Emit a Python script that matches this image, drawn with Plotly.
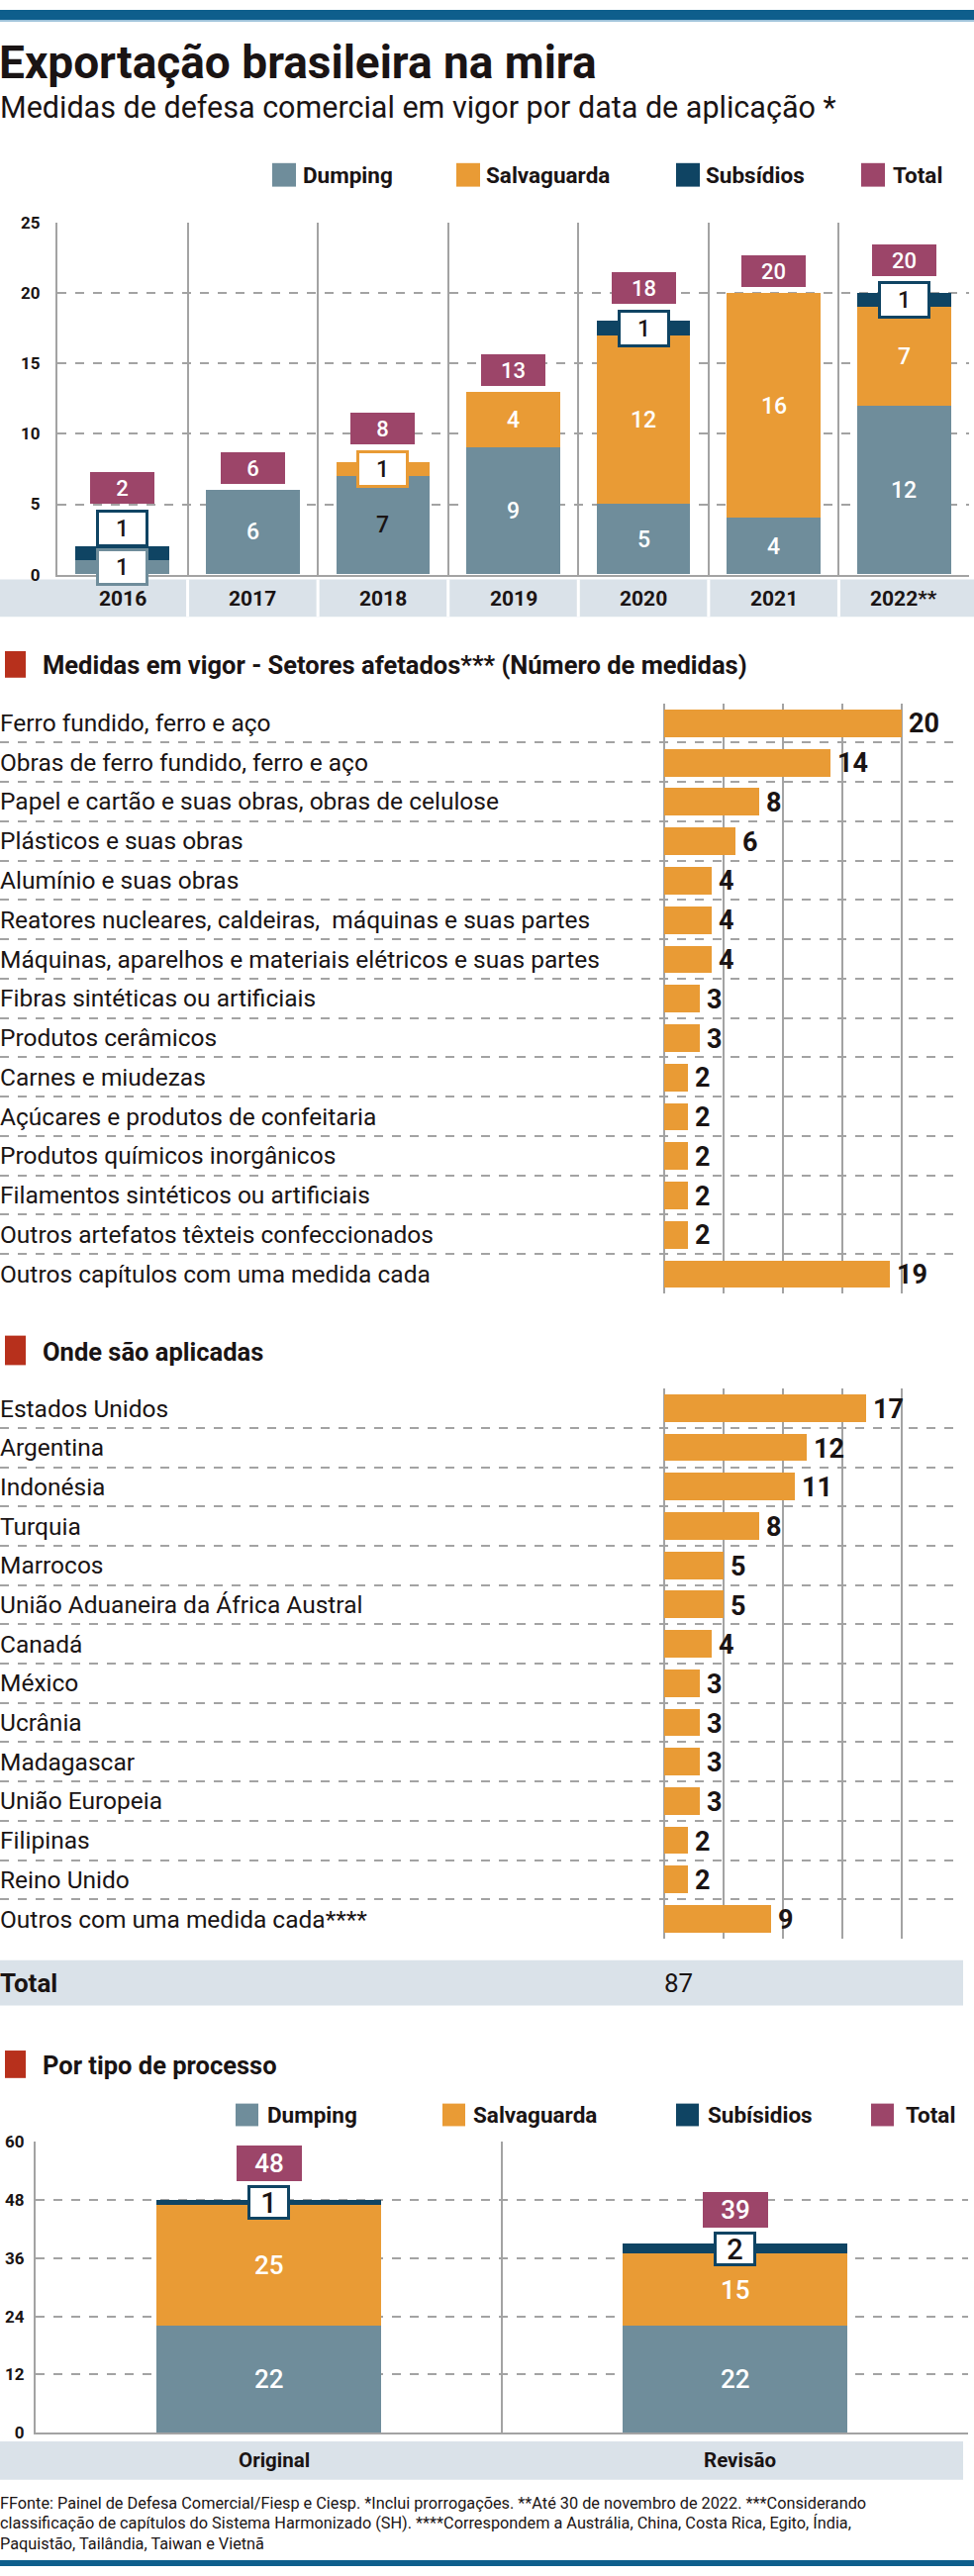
import plotly.graph_objects as go

# ---------------- DATA ----------------
years = ['2016', '2017', '2018', '2019', '2020', '2021', '2022**']
dumping = [1, 6, 7, 9, 5, 4, 12]
salvaguarda = [0, 0, 1, 4, 12, 16, 7]
subsidios = [1, 0, 0, 0, 1, 0, 1]
totais = [2, 6, 8, 13, 18, 20, 20]

setores = ['Ferro fundido, ferro e aço',
           'Obras de ferro fundido, ferro e aço',
           'Papel e cartão e suas obras, obras de celulose',
           'Plásticos e suas obras',
           'Alumínio e suas obras',
           'Reatores nucleares, caldeiras,  máquinas e suas partes',
           'Máquinas, aparelhos e materiais elétricos e suas partes',
           'Fibras sintéticas ou artificiais',
           'Produtos cerâmicos',
           'Carnes e miudezas',
           'Açúcares e produtos de confeitaria',
           'Produtos químicos inorgânicos',
           'Filamentos sintéticos ou artificiais',
           'Outros artefatos têxteis confeccionados',
           'Outros capítulos com uma medida cada']
setores_vals = [20, 14, 8, 6, 4, 4, 4, 3, 3, 2, 2, 2, 2, 2, 19]

paises = ['Estados Unidos', 'Argentina', 'Indonésia', 'Turquia', 'Marrocos',
          'União Aduaneira da África Austral', 'Canadá', 'México', 'Ucrânia',
          'Madagascar', 'União Europeia', 'Filipinas', 'Reino Unido',
          'Outros com uma medida cada****']
paises_vals = [17, 12, 11, 8, 5, 5, 4, 3, 3, 3, 3, 2, 2, 9]
total_geral = 87

tipos = ['Original', 'Revisão']
tipo_dumping = [22, 22]
tipo_salvaguarda = [25, 15]
tipo_subsidios = [1, 2]
tipo_totais = [48, 39]

legend1_names = ['Dumping', 'Salvaguarda', 'Subsídios', 'Total']
legend4_names = ['Dumping', 'Salvaguarda', 'Subísidios', 'Total']

title = 'Exportação brasileira na mira'
subtitle = 'Medidas de defesa comercial em vigor por data de aplicação *'
header2 = 'Medidas em vigor - Setores afetados*** (Número de medidas)'
header3 = 'Onde são aplicadas'
header4 = 'Por tipo de processo'
footer_lines = [
    'FFonte: Painel de Defesa Comercial/Fiesp e Ciesp. *Inclui prorrogações. **Até 30 de novembro de 2022. ***Considerando',
    'classificação de capítulos do Sistema Harmonizado (SH). ****Correspondem a Austrália, China, Costa Rica, Egito, Índia,',
    'Paquistão, Tailândia, Taiwan e Vietnã',
]

# ---------------- STYLE ----------------
W, H = 984, 2603
FONT = "Roboto, 'Liberation Sans', sans-serif"
C_D = '#6f8d9b'
C_S = '#e99b35'
C_SUB = '#0f4463'
C_T = '#9c4569'
RED = '#b7301c'
BAND = '#dae2e9'
GRID = '#a3a3a3'
TOPBAR = '#0e5e8c'
INK = '#1a1414'


def yp(px):
    return 1 - px / H


def xp(px):
    return px / W


fig = go.Figure()
shapes = []
ann = []


def text_ann(x, y, text, size, xref='paper', yref='paper', xanchor='left', color=INK, **kw):
    d = dict(x=x, y=y, xref=xref, yref=yref, text=text, showarrow=False, xanchor=xanchor,
             yanchor=kw.pop('yanchor', 'middle'), font=dict(family=FONT, size=size, color=color))
    d.update(kw)
    ann.append(d)


# ---------- Chart 1 geometry ----------
c1_top, c1_bot, c1_left, c1_right = 217, 575, 58, 979
ppu1 = (c1_bot - c1_top) / 25.0

for vals, col, name in [(dumping, C_D, 'Dumping'), (salvaguarda, C_S, 'Salvaguarda'), (subsidios, C_SUB, 'Subsídios')]:
    fig.add_trace(go.Bar(x=years, y=vals, marker=dict(color=col, line=dict(width=0)), width=0.72,
                         name=name, xaxis='x', yaxis='y', showlegend=False, hoverinfo='skip'))

dark_inside = {('2018', 'Dumping')}


def stacked_labels(cats, series, totals, ppu, xref, yref, box_w, box_h, tot_w, tot_h,
                   in_size, box_size, tot_size, gap=6):
    for i, cat in enumerate(cats):
        base = 0
        last_top = None
        for name, vals, col in series:
            v = vals[i]
            if v <= 0:
                continue
            center = base + v / 2.0
            if v <= 2:
                cpx = center * ppu
                full_h = box_h + 6
                if last_top is not None and cpx - full_h / 2 < last_top + 2:
                    cpx = last_top + 2 + full_h / 2
                ann.append(dict(x=i, y=center, xref=xref, yref=yref, text=str(v),
                                showarrow=False, yshift=cpx - center * ppu,
                                xanchor='center', yanchor='middle',
                                font=dict(family=FONT, size=box_size, color=INK, weight=500),
                                bgcolor='white', bordercolor=col, borderwidth=3, borderpad=0,
                                width=box_w, height=box_h, valign='middle'))
                last_top = cpx + full_h / 2
            else:
                colr = INK if (cat, name) in dark_inside else 'white'
                ann.append(dict(x=i, y=center, xref=xref, yref=yref, text=str(v),
                                xanchor='center', yanchor='middle',
                                showarrow=False, font=dict(family=FONT, size=in_size, color=colr, weight=500)))
            base += v
        tot = totals[i]
        anchor = max(tot * ppu, last_top if last_top is not None else 0)
        ann.append(dict(x=i, y=tot, xref=xref, yref=yref, text=str(tot), showarrow=False,
                        xanchor='center', yanchor='bottom', yshift=anchor - tot * ppu + gap,
                        font=dict(family=FONT, size=tot_size, color='white', weight=500),
                        bgcolor=C_T, borderwidth=0, borderpad=0, width=tot_w, height=tot_h,
                        valign='middle'))


stacked_labels(years, [('Dumping', dumping, C_D), ('Salvaguarda', salvaguarda, C_S),
                       ('Subsídios', subsidios, C_SUB)], totais, ppu1, 'x', 'y',
               47, 32, 65, 32, 23, 23, 22)

# category band chart 1
shapes.append(dict(type='rect', xref='paper', yref='paper', x0=0, x1=1, y0=yp(618), y1=yp(580),
                   fillcolor=BAND, line=dict(width=0), layer='below'))
cw1 = (c1_right - c1_left) / len(years)
for k in range(1, len(years)):
    xx = c1_left + k * cw1
    shapes.append(dict(type='line', xref='paper', yref='paper', x0=xp(xx), x1=xp(xx),
                       y0=yp(618), y1=yp(580), line=dict(color='white', width=3)))
for i, y in enumerate(years):
    text_ann(i, yp(600), '<b>%s</b>' % y, 21, xref='x', xanchor='center')

# ---------- Chart 2 / 3 geometry ----------
bar_x0 = 671
ppu_h = 12.0
h_right = 971


def hbar_section(labels, vals, xa, ya):
    n = len(labels)
    fig.add_trace(go.Bar(x=vals, y=list(range(n)), orientation='h', width=0.7,
                         marker=dict(color=C_S, line=dict(width=0)),
                         xaxis=xa, yaxis=ya, showlegend=False, hoverinfo='skip'))
    for i, (lab, v) in enumerate(zip(labels, vals)):
        text_ann(0, i, lab, 24.5, yref=ya, xshift=-2)
        text_ann(v, i, '<b>%d</b>' % v, 27, xref=xa, yref=ya, xshift=5, yshift=-1)


hbar_section(setores, setores_vals, 'x2', 'y2')
hbar_section(paises, paises_vals, 'x3', 'y3')

# total row
shapes.append(dict(type='rect', xref='paper', yref='paper', x0=0, x1=xp(973), y0=yp(2032), y1=yp(1986),
                   fillcolor=BAND, line=dict(width=0), layer='below'))
text_ann(0, yp(2009), '<b>Total</b>', 26, xshift=-2)
text_ann(0, yp(2009), str(total_geral), 26, xref='x3', xshift=-2)

# ---------- Chart 4 geometry ----------
c4_top, c4_bot, c4_left, c4_right = 2171, 2467, 36, 978
ppu4 = (c4_bot - c4_top) / 60.0
for vals, col, name in [(tipo_dumping, C_D, 'Dumping'), (tipo_salvaguarda, C_S, 'Salvaguarda'),
                        (tipo_subsidios, C_SUB, 'Subsídios')]:
    fig.add_trace(go.Bar(x=tipos, y=vals, marker=dict(color=col, line=dict(width=0)), width=0.48,
                         name=name, xaxis='x4', yaxis='y4', showlegend=False, hoverinfo='skip'))
stacked_labels(tipos, [('Dumping', tipo_dumping, C_D), ('Salvaguarda', tipo_salvaguarda, C_S),
                       ('Subsídios', tipo_subsidios, C_SUB)], tipo_totais, ppu4, 'x4', 'y4',
               37, 29, 66, 36, 26, 29, 26, gap=4)
shapes.append(dict(type='rect', xref='paper', yref='paper', x0=0, x1=xp(973), y0=yp(2515), y1=yp(2476),
                   fillcolor=BAND, line=dict(width=0), layer='below'))
for i, t in enumerate(tipos):
    text_ann(i, yp(2495), '<b>%s</b>' % t, 20.5, xref='x4', xanchor='center', xshift=5)

# ---------- Titles, headers, legends ----------
shapes.append(dict(type='rect', xref='paper', yref='paper', x0=0, x1=1, y0=yp(10), y1=1,
                   fillcolor=TOPBAR, line=dict(width=0)))
shapes.append(dict(type='rect', xref='paper', yref='paper', x0=0, x1=1, y0=yp(12), y1=yp(10),
                   fillcolor='#9fc3da', line=dict(width=0)))
shapes.append(dict(type='rect', xref='paper', yref='paper', x0=0, x1=1, y0=0, y1=yp(2597),
                   fillcolor=TOPBAR, line=dict(width=0)))

text_ann(0, yp(53), '<b>%s</b>' % title, 46, xshift=-3)
text_ann(0, yp(99), subtitle, 30.5, xshift=-2)

for txt, (sq0, sq1) in [(header2, (653, 680)), (header3, (1350, 1380)), (header4, (2078, 2106))]:
    shapes.append(dict(type='rect', xref='paper', yref='paper', x0=xp(5), x1=xp(26), y0=yp(sq1), y1=yp(sq0),
                       fillcolor=RED, line=dict(width=0)))
    text_ann(xp(41), yp((sq0 + sq1) / 2 + 1), '<b>%s</b>' % txt, 25.5)

legend_cols = [C_D, C_S, C_SUB, C_T]


def legend(names, sq_x, tx_x, y0, y1, size):
    for nm, c, sx, tx in zip(names, legend_cols, sq_x, tx_x):
        shapes.append(dict(type='rect', xref='paper', yref='paper', x0=xp(sx), x1=xp(sx + (y1 - y0)),
                           y0=yp(y1), y1=yp(y0), fillcolor=c, line=dict(width=0)))
        text_ann(xp(tx), yp((y0 + y1) / 2), '<b>%s</b>' % nm, size, xshift=-2)


legend(legend1_names, [275, 461, 683, 870], [306, 491, 713, 902], 156, 180, 22.5)
legend(legend4_names, [238, 447, 683, 880], [270, 478, 715, 915], 2132, 2155, 22.5)

for k, line in enumerate(footer_lines):
    text_ann(0, yp(2539 + 20.5 * k), line, 16.3, xshift=-2)

# ---------- Axes ----------
grid_common = dict(gridcolor=GRID, gridwidth=2, zeroline=False, fixedrange=True)
tickfont_b = dict(family=FONT, size=17, color=INK, weight='bold')
fig.update_layout(
    width=W, height=H, margin=dict(l=0, r=0, t=0, b=0),
    paper_bgcolor='white', plot_bgcolor='rgba(0,0,0,0)',
    barmode='stack', bargap=0, font=dict(family=FONT, color=INK),
    showlegend=False,
    xaxis=dict(domain=[xp(c1_left), xp(c1_right)], type='category', range=[-0.5, 6.5], tickson='boundaries',
               showgrid=True, showticklabels=False, ticks='', showline=True, linecolor=GRID, linewidth=2,
               anchor='y', **grid_common),
    yaxis=dict(domain=[yp(c1_bot), yp(c1_top)], range=[0, 25], tickvals=[0, 5, 10, 15, 20, 25],
               showgrid=True, griddash='dash', showline=True, linecolor=GRID, linewidth=2,
               ticks='outside', ticklen=12, tickcolor='rgba(0,0,0,0)',
               tickfont=tickfont_b, anchor='x', **grid_common),
    xaxis2=dict(domain=[0, xp(h_right)], range=[-bar_x0 / ppu_h, 25], tickvals=[0, 5, 10, 15, 20, 25],
                showgrid=True, showticklabels=False, anchor='y2', **grid_common),
    yaxis2=dict(domain=[yp(1307), yp(706)], range=[len(setores) - 0.5, -0.5],
                tickvals=[i - 0.5 for i in range(len(setores) + 1)], showgrid=True, griddash='dash',
                showticklabels=False, anchor='x2', **grid_common),
    xaxis3=dict(domain=[0, xp(h_right)], range=[-bar_x0 / ppu_h, 25], tickvals=[0, 5, 10, 15, 20, 25],
                showgrid=True, showticklabels=False, anchor='y3', **grid_common),
    yaxis3=dict(domain=[yp(1964), yp(1404)], range=[len(paises) - 0.5, -0.5],
                tickvals=[i - 0.5 for i in range(len(paises) + 1)], showgrid=True, griddash='dash',
                showticklabels=False, anchor='x3', **grid_common),
    xaxis4=dict(domain=[xp(c4_left), xp(c4_right)], type='category', range=[-0.5, 1.5], tickson='boundaries',
                showgrid=True, showticklabels=False, ticks='', showline=True, linecolor=GRID, linewidth=2,
                anchor='y4', **grid_common),
    yaxis4=dict(domain=[yp(c4_bot), yp(c4_top)], range=[0, 60], tickvals=[0, 12, 24, 36, 48, 60],
                showgrid=True, griddash='dash', showline=True, linecolor=GRID, linewidth=2,
                ticks='outside', ticklen=6, tickcolor='rgba(0,0,0,0)',
                tickfont=tickfont_b, anchor='x4', **grid_common),
    shapes=shapes, annotations=ann,
)

fig.write_html('out.html', config={'displayModeBar': False},
               post_script="document.body.style.margin='0';document.body.style.padding='0';")
